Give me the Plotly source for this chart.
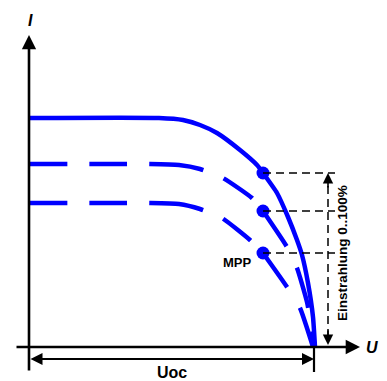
import plotly.graph_objects as go

# Schematic I-U curves of a solar panel at three irradiance levels
# (U and I in arbitrary drawing units, origin at the axis crossing)
u_oc = 285
u_mpp = 234

u_full = [0, 130, 154, 171, 188, 211, 228, 234, 248, 259, 268, 273, 279, 284, 286]
i_full = [229, 229, 227, 222, 214, 197, 182, 174, 154, 130, 107, 92, 64, 30, 0]

u_mid_a = [0, 121, 150, 171, 194, 223, 234]
i_mid_a = [183, 183, 182, 178, 169, 149, 136]
u_mid_b = [234, 258, 268, 278, 286]
i_mid_b = [136, 100, 79, 45, 0]

u_low_a = [0, 121, 150, 171, 193, 221, 234]
i_low_a = [144, 144, 143, 138, 129, 107, 94]
u_low_b = [234, 258, 271, 284]
i_low_b = [94, 60, 39, 0]

mpp_i = [174, 136, 94]

BLUE = "#0000ff"
FONT = "Liberation Sans, Arial, sans-serif"
DASH_A = "38px,22px,38px,22px,55px,22px,35px,40px"
DASH_B = "42px,24px"

fig = go.Figure()

fig.add_trace(go.Scatter(x=u_full, y=i_full, mode="lines",
                         line=dict(color=BLUE, width=4.5, shape="spline", smoothing=0.5)))
for ux, iy in [(u_mid_a, i_mid_a), (u_low_a, i_low_a)]:
    fig.add_trace(go.Scatter(x=ux, y=iy, mode="lines",
                             line=dict(color=BLUE, width=4.5, dash=DASH_A,
                                       shape="spline", smoothing=0.5)))
for ux, iy in [(u_mid_b, i_mid_b), (u_low_b, i_low_b)]:
    fig.add_trace(go.Scatter(x=ux, y=iy, mode="lines",
                             line=dict(color=BLUE, width=4.5, dash=DASH_B,
                                       shape="spline", smoothing=0.5)))

# MPP reference lines
for i in mpp_i:
    fig.add_shape(type="line", x0=u_mpp, x1=306, y0=i, y1=i,
                  line=dict(color="black", width=1.5, dash="8px,5px"))

fig.add_trace(go.Scatter(x=[u_mpp] * 3, y=mpp_i, mode="markers",
                         marker=dict(color=BLUE, size=13)))

# irradiance dimension (dashed, arrows both ends)
fig.add_shape(type="line", x0=299, x1=299, y0=10, y1=165,
              line=dict(color="black", width=1.5, dash="8px,5px"))
fig.add_annotation(x=299, y=mpp_i[0], ax=299, ay=158, axref="x", ayref="y",
                   showarrow=True, arrowhead=2, arrowsize=1.3, arrowwidth=1.6,
                   arrowcolor="black", text="")
fig.add_annotation(x=299, y=2, ax=299, ay=18, axref="x", ayref="y",
                   showarrow=True, arrowhead=2, arrowsize=1.3, arrowwidth=1.6,
                   arrowcolor="black", text="")

# axes with arrows
fig.add_annotation(x=0, y=312, ax=0, ay=-25, axref="x", ayref="y",
                   showarrow=True, arrowhead=2, arrowsize=1.1, arrowwidth=2.6,
                   arrowcolor="black", text="")
fig.add_annotation(x=331, y=0, ax=-14, ay=0, axref="x", ayref="y",
                   showarrow=True, arrowhead=2, arrowsize=1.1, arrowwidth=2.6,
                   arrowcolor="black", text="")

# Uoc dimension
fig.add_shape(type="line", x0=u_oc, x1=u_oc, y0=0, y1=-25,
              line=dict(color="black", width=2.2))
fig.add_annotation(x=u_oc, y=-12, ax=0, ay=-12, axref="x", ayref="y",
                   showarrow=True, arrowhead=2, startarrowhead=2, arrowside="end+start",
                   arrowsize=1.2, startarrowsize=1.2, arrowwidth=2,
                   arrowcolor="black", text="")

# labels
fig.add_annotation(x=1, y=327, text="<b><i>I</i></b>", showarrow=False,
                   font=dict(family=FONT, size=16, color="black"))
fig.add_annotation(x=343, y=0, text="<b><i>U</i></b>", showarrow=False,
                   font=dict(family=FONT, size=16, color="black"))
fig.add_annotation(x=143, y=-25, text="<b>Uoc</b>", showarrow=False, borderpad=0,
                   font=dict(family=FONT, size=16, color="black"))
fig.add_annotation(x=208, y=85, text="<b>MPP</b>", showarrow=False,
                   font=dict(family=FONT, size=13, color="black"))
fig.add_annotation(x=313, y=94, text="<b>Einstrahlung 0..100%</b>", showarrow=False,
                   textangle=-90, font=dict(family=FONT, size=13.5, color="black"))

# the page body has an 8px margin, so the figure is 8px smaller and the
# ranges start 8px in
fig.update_layout(
    width=379, height=373,
    margin=dict(l=0, r=0, t=0, b=0),
    paper_bgcolor="white", plot_bgcolor="white",
    showlegend=False,
    xaxis=dict(range=[-21, 358], visible=False, fixedrange=True),
    yaxis=dict(range=[-34, 339], visible=False, fixedrange=True),
)

fig.write_html("out.html", config={"displayModeBar": False})
